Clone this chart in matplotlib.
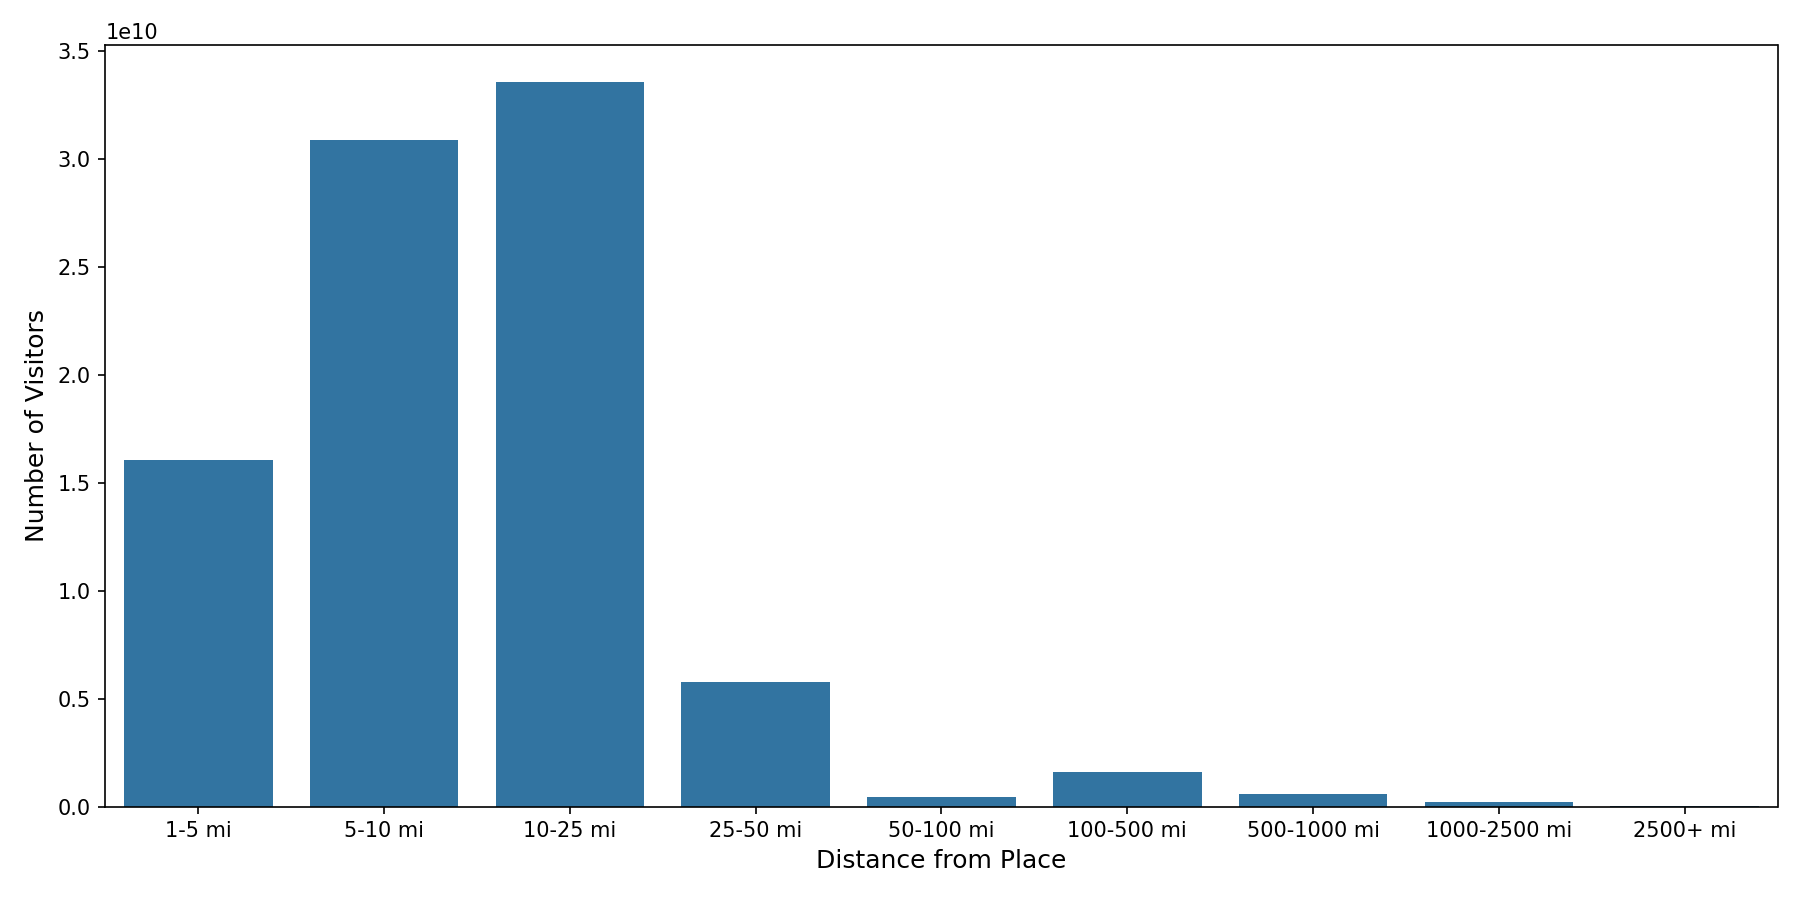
import matplotlib
matplotlib.use('Agg')
import matplotlib.pyplot as plt
import seaborn as sns

distance_bins = ['1-5 mi', '5-10 mi', '10-25 mi', '25-50 mi', '50-100 mi',
                 '100-500 mi', '500-1000 mi', '1000-2500 mi', '2500+ mi']
visitors = [1.606e10, 3.087e10, 3.358e10, 0.578e10, 0.045e10,
            0.158e10, 0.059e10, 0.021e10, 0.0006e10]

plt.figure(figsize=(12, 6))
sns.barplot(x=distance_bins, y=visitors, color='#1f77b4')
plt.xlabel('Distance from Place', fontsize=12)
plt.ylabel('Number of Visitors', fontsize=12)
plt.tight_layout()
plt.savefig('out.png', dpi=150)
